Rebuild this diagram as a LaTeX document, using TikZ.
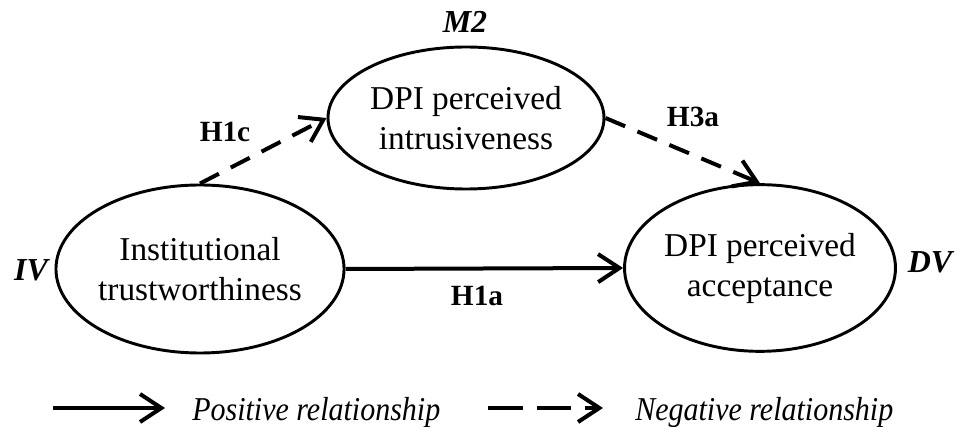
\documentclass[tikz,border=0pt]{standalone}
\usepackage{fontspec}
\setmainfont{Liberation Serif}
\usetikzlibrary{shapes.geometric,arrows.meta}

\tikzset{
  construct/.style={draw,ellipse,line width=2.2pt,align=center,inner sep=0pt,
    font=\fontsize{25}{30}\selectfont},
  role/.style={font=\fontsize{24}{28}\selectfont\bfseries\itshape},
  hyp/.style={font=\fontsize{22}{26}\selectfont\bfseries},
  legendtext/.style={anchor=west,inner sep=0pt,font=\fontsize{25}{30}\selectfont\itshape},
  posarrow/.style={line width=3pt,-{Straight Barb[length=16pt,width=21pt,line width=3pt]}},
  negarrow/.style={posarrow,dash pattern=on 16pt off 10pt},
  neglegend/.style={posarrow,dash pattern=on 26pt off 10.5pt}
}

\begin{document}
\begin{tikzpicture}[x=0.75pt,y=-0.75pt]
\useasboundingbox (0,0) rectangle (961,427);
% constructs
\node[construct,minimum width=199.5pt,minimum height=126pt] (iv) at (200,269) {Institutional\\trustworthiness};
\node[construct,minimum width=207pt,minimum height=106.5pt] (m2) at (466,118) {DPI perceived\\intrusiveness};
\node[construct,minimum width=201pt,minimum height=125pt] (dv) at (760,268) {DPI perceived\\acceptance};
% roles
\node[role] (ivlab) at (31,270) {IV};
\node[role] (m2lab) at (465,22) {M2};
\node[role] (dvlab) at (930,262) {DV};
% paths
\draw[negarrow] (iv.north) -- (m2.west);
\draw[negarrow] (m2.east) -- (dv.north);
\draw[posarrow] (iv.east) -- (dv.west);
\node[hyp] (h1c) at (225,132) {H1c};
\node[hyp] (h3a) at (693,117) {H3a};
\node[hyp] (h1a) at (477,296) {H1a};
% legend
\coordinate (p1) at (53,408);
\coordinate (p2) at (165,408);
\coordinate (n1) at (488,408);
\coordinate (n2) at (603,408);
\draw[posarrow] (p1) -- (p2);
\draw[neglegend] (n1) -- (n2);
\node[legendtext] (postext) at (192,412) {\scalebox{0.9}[1]{Positive relationship}};
\node[legendtext] (negtext) at (635,412) {\scalebox{0.9}[1]{Negative relationship}};
\end{tikzpicture}
\end{document}
